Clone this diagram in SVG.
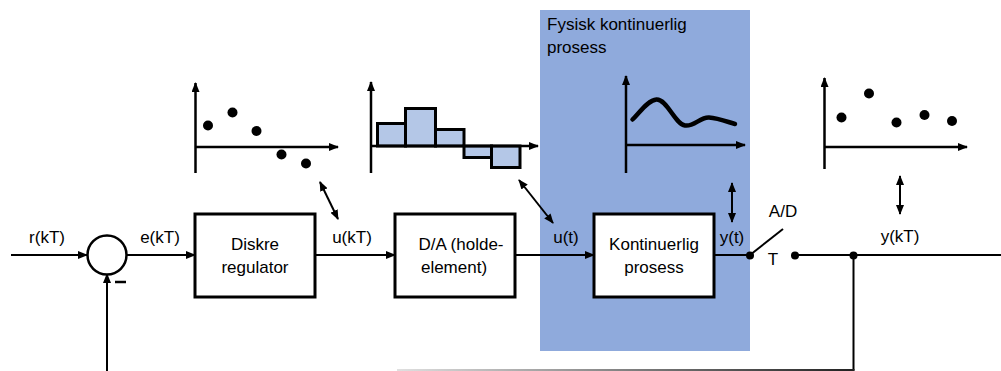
<svg xmlns="http://www.w3.org/2000/svg" width="1001" height="371" viewBox="0 0 1001 371">
<style>
  text { font-family: "Liberation Sans", Arial, sans-serif; font-size: 17px; fill: #000; }
  .box { fill: #fff; stroke: #000; stroke-width: 3; }
  .ln { stroke: #000; stroke-width: 2; fill: none; }
  .ax { stroke: #000; stroke-width: 2.5; fill: none; }
  .bar { fill: #b4c7e7; stroke: #000; stroke-width: 3; }
  .dot { fill: #000; }
</style>
<defs>
  <marker id="arr" markerWidth="10" markerHeight="8" refX="9" refY="4" orient="auto" markerUnits="userSpaceOnUse">
    <path d="M0,0 L10,4 L0,8 Z" fill="#000"/>
  </marker>
  <marker id="arrs" markerWidth="10" markerHeight="8" refX="1" refY="4" orient="auto" markerUnits="userSpaceOnUse">
    <path d="M10,0 L0,4 L10,8 Z" fill="#000"/>
  </marker>
  <linearGradient id="fb" gradientUnits="userSpaceOnUse" x1="397" y1="0" x2="853" y2="0">
    <stop offset="0" stop-color="#e0e0e0"/>
    <stop offset="1" stop-color="#222"/>
  </linearGradient>
</defs>

<rect id="process-area" x="540" y="10" width="210" height="341" fill="#8faadc"/>
<text x="547" y="30">Fysisk kontinuerlig</text>
<text x="547" y="53">prosess</text>

<g id="connectors">
  <line class="ln" x1="11" y1="255" x2="87" y2="255" marker-end="url(#arr)"/>
  <line class="ln" x1="126" y1="255" x2="195" y2="255" marker-end="url(#arr)"/>
  <line class="ln" x1="315" y1="255" x2="395" y2="255" marker-end="url(#arr)"/>
  <line class="ln" x1="515" y1="255" x2="594" y2="255" marker-end="url(#arr)"/>
  <line class="ln" x1="714" y1="255" x2="750" y2="255"/>
  <line class="ln" x1="750" y1="255" x2="783" y2="229"/>
  <line class="ln" x1="795" y1="255" x2="1001" y2="255"/>
  <line class="ln" x1="853.5" y1="255" x2="853.5" y2="370.5"/>
  <line x1="397" y1="370" x2="854.5" y2="370" stroke="url(#fb)" stroke-width="2"/>
  <line class="ln" x1="107" y1="371" x2="107" y2="274" marker-end="url(#arr)"/>
  <line class="ln" x1="320" y1="182" x2="338" y2="219" marker-start="url(#arrs)" marker-end="url(#arr)"/>
  <line class="ln" x1="519" y1="180" x2="553" y2="223" marker-start="url(#arrs)" marker-end="url(#arr)"/>
  <line class="ln" x1="732" y1="183" x2="732" y2="222" marker-start="url(#arrs)" marker-end="url(#arr)"/>
  <line class="ln" x1="900" y1="176" x2="900" y2="214" marker-start="url(#arrs)" marker-end="url(#arr)"/>
  <circle class="dot" cx="750" cy="255.5" r="4"/>
  <circle class="dot" cx="795" cy="255.5" r="4"/>
  <circle class="dot" cx="853.5" cy="255.5" r="4"/>
</g>

<g id="sum">
  <circle cx="107" cy="255" r="19.5" fill="#fff" stroke="#000" stroke-width="2.5"/>
  <line x1="115" y1="282" x2="126" y2="282" stroke="#000" stroke-width="2.5"/>
</g>

<g id="regulator">
  <rect class="box" x="195" y="214" width="120" height="83"/>
  <text x="255" y="250" text-anchor="middle">Diskre</text>
  <text x="255" y="273" text-anchor="middle">regulator</text>
</g>

<g id="da">
  <rect class="box" x="395" y="214" width="120" height="83"/>
  <text x="461" y="250" text-anchor="middle">D/A (holde-</text>
  <text x="454" y="273" text-anchor="middle">element)</text>
</g>

<g id="process">
  <rect class="box" x="594" y="214" width="120" height="83"/>
  <text x="654" y="250" text-anchor="middle">Kontinuerlig</text>
  <text x="654" y="273" text-anchor="middle">prosess</text>
</g>

<g id="labels">
  <text x="47" y="243" text-anchor="middle">r(kT)</text>
  <text x="160" y="243" text-anchor="middle">e(kT)</text>
  <text x="352" y="243" text-anchor="middle">u(kT)</text>
  <text x="566" y="243" text-anchor="middle">u(t)</text>
  <text x="732" y="243" text-anchor="middle">y(t)</text>
  <text x="783" y="217" text-anchor="middle">A/D</text>
  <text x="773" y="265" text-anchor="middle">T</text>
  <text x="900" y="242" text-anchor="middle">y(kT)</text>
</g>

<g id="plot-e">
  <line class="ax" x1="195.5" y1="173" x2="195.5" y2="83" marker-end="url(#arr)"/>
  <line class="ax" x1="195" y1="147" x2="338" y2="147" marker-end="url(#arr)"/>
  <circle class="dot" cx="208" cy="125.5" r="5"/>
  <circle class="dot" cx="232.5" cy="112.5" r="5"/>
  <circle class="dot" cx="256.5" cy="131" r="5"/>
  <circle class="dot" cx="281.5" cy="154.5" r="5"/>
  <circle class="dot" cx="306" cy="163.5" r="5"/>
</g>

<g id="plot-da">
  <line class="ax" x1="371" y1="173" x2="371" y2="82" marker-end="url(#arr)"/>
  <rect class="bar" x="377.5" y="123.5" width="28" height="22.5"/>
  <rect class="bar" x="405.5" y="108.5" width="30" height="37.5"/>
  <rect class="bar" x="435.5" y="129.5" width="28.5" height="16.5"/>
  <rect class="bar" x="464" y="146" width="27.5" height="11.5"/>
  <rect class="bar" x="491.5" y="146" width="28.5" height="21.5"/>
  <line class="ax" x1="371" y1="146" x2="538" y2="146" marker-end="url(#arr)"/>
</g>

<g id="plot-y">
  <line class="ax" x1="626" y1="173" x2="626" y2="76" marker-end="url(#arr)"/>
  <line class="ax" x1="626" y1="145" x2="745" y2="145" marker-end="url(#arr)"/>
  <path d="M632.5,119.5 C640,112 648,100 656.5,99.5 C667,99 675,124 685,125.5 C694,127 700,117 709,117.5 C718,118 728,122 735,124" fill="none" stroke="#000" stroke-width="4.5" stroke-linecap="round"/>
</g>

<g id="plot-ykt">
  <line class="ax" x1="824.5" y1="169" x2="824.5" y2="78" marker-end="url(#arr)"/>
  <line class="ax" x1="824" y1="147" x2="967" y2="147" marker-end="url(#arr)"/>
  <circle class="dot" cx="841.5" cy="117.5" r="5"/>
  <circle class="dot" cx="869" cy="93.5" r="5"/>
  <circle class="dot" cx="896.5" cy="122.5" r="5"/>
  <circle class="dot" cx="924.5" cy="115" r="5"/>
  <circle class="dot" cx="952" cy="121" r="5"/>
</g>
</svg>
